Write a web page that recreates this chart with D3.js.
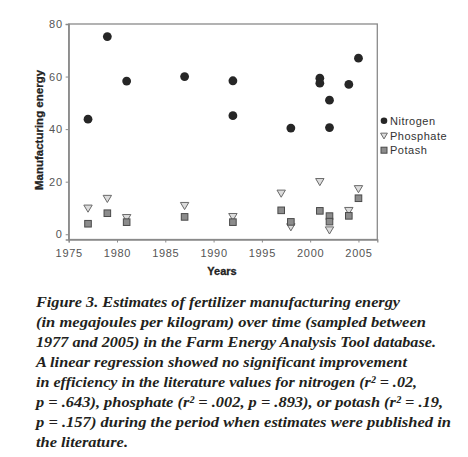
<!DOCTYPE html>
<html><head><meta charset="utf-8">
<script src="https://cdn.jsdelivr.net/npm/d3@7"></script>
<style>body{margin:0;background:#fff;} svg{display:block;}</style>
</head><body>
<svg id="c" width="468" height="457"></svg>
<script>
const nitrogenYears = [1977,1979,1981,1987,1992,1992,1998,2001,2001,2002,2002,2004,2005];
const nitrogenValues = [43.8,75.2,58.3,60.0,58.4,45.1,40.4,59.4,57.5,51.0,40.6,57.0,67.0];
const phosphateYears = [1977,1979,1981,1987,1992,1997,1998,2001,2002,2004,2005];
const phosphateValues = [9.9,13.6,6.3,10.9,6.7,15.6,2.8,20.0,1.6,9.0,17.3];
const potashYears = [1977,1979,1981,1987,1992,1997,1998,2001,2002,2002,2004,2005];
const potashValues = [4.0,8.0,4.6,6.6,4.6,9.1,4.7,8.9,6.9,4.8,7.0,13.7];
const xTicks = [1975,1980,1985,1990,1995,2000,2005];
const yTicks = [0,20,40,60,80];
const legendLabels = ["Nitrogen","Phosphate","Potash"];
const captionLines = [
 "Figure 3. Estimates of fertilizer manufacturing energy",
 "(in megajoules per kilogram) over time (sampled between",
 "1977 and 2005) in the Farm Energy Analysis Tool database.",
 "A linear regression showed no significant improvement",
 "in efficiency in the literature values for nitrogen (r\u00B2 = .02,",
 "p = .643), phosphate (r\u00B2 = .002, p = .893), or potash (r\u00B2 = .19,",
 "p = .157) during the period when estimates were published in",
 "the literature."
];
const captionWidths = [364,390,400,371,381,407,415,92];

const svg = d3.select("#c");
const L = 68.7, R = 377.3, T = 24, B = 239.5;
const x = d3.scaleLinear().domain([1975, 2006.95]).range([L, R]);
const y = d3.scaleLinear().domain([-2, 80]).range([B, T]);
const axisColor = "#8a8a8a";
const tickText = "#555";

// frame
svg.append("rect").attr("x", L).attr("y", T).attr("width", R-L).attr("height", B-T)
  .attr("fill","none").attr("stroke", axisColor).attr("stroke-width", 1.3);

const xa = svg.append("g").attr("transform", `translate(0,${B})`)
  .call(d3.axisBottom(x).tickValues(xTicks).tickSize(3).tickPadding(7).tickFormat(d3.format("d")));
const ya = svg.append("g").attr("transform", `translate(${L},0)`)
  .call(d3.axisLeft(y).tickValues(yTicks).tickSize(3).tickPadding(3));
[xa, ya].forEach(g => {
  g.select(".domain").attr("stroke", axisColor).attr("stroke-width", 1.3);
  g.selectAll(".tick line").attr("stroke", axisColor);
  g.selectAll("text").attr("fill", tickText).attr("font-family","Liberation Sans, Arial, sans-serif")
    .attr("font-size", 11).attr("letter-spacing", 0.7);
});

// axis titles
svg.append("text").attr("x", 222).attr("y", 275).attr("text-anchor","middle")
  .attr("font-family","Liberation Sans, Arial, sans-serif").attr("font-weight","bold")
  .attr("font-size", 11).attr("stroke","#222").attr("stroke-width",0.3)
  .attr("fill","#222").text("Years");
svg.append("text").attr("transform", `translate(43,130) rotate(-90)`).attr("text-anchor","middle")
  .attr("font-family","Liberation Sans, Arial, sans-serif").attr("font-weight","bold")
  .attr("font-size", 11.5).attr("stroke","#222").attr("stroke-width",0.3)
  .attr("fill","#222").text("Manufacturing energy");

const tri = (cx, cy, s) => `M${cx-s},${cy-s*0.75}L${cx+s},${cy-s*0.75}L${cx},${cy+s*0.95}Z`;

// phosphate triangles
svg.append("g").selectAll("path").data(phosphateYears.map((d,i)=>[d,phosphateValues[i]])).join("path")
  .attr("d", d => tri(x(d[0]), y(d[1]), 4.2))
  .attr("fill","#dcdcdc").attr("stroke","#6a6a6a").attr("stroke-width",1);
// potash squares
svg.append("g").selectAll("rect").data(potashYears.map((d,i)=>[d,potashValues[i]])).join("rect")
  .attr("x", d => x(d[0]) - 3.3).attr("y", d => y(d[1]) - 3.3).attr("width", 6.6).attr("height", 6.6)
  .attr("fill","#8c8c8c").attr("stroke","#4a4a4a").attr("stroke-width",1);
// nitrogen circles
svg.append("g").selectAll("circle").data(nitrogenYears.map((d,i)=>[d,nitrogenValues[i]])).join("circle")
  .attr("cx", d => x(d[0])).attr("cy", d => y(d[1])).attr("r", 4.4)
  .attr("fill","#262626");

// legend
const lg = svg.append("g");
const ly = [120.7, 135.7, 150.2];
lg.append("circle").attr("cx", 384).attr("cy", ly[0]).attr("r", 3.3).attr("fill","#262626");
lg.append("path").attr("d", tri(384, ly[1], 3.4)).attr("fill","#dcdcdc").attr("stroke","#6a6a6a");
lg.append("rect").attr("x", 381).attr("y", ly[2]-3).attr("width",6).attr("height",6)
  .attr("fill","#8c8c8c").attr("stroke","#4a4a4a");
lg.selectAll("text").data(legendLabels).join("text")
  .attr("x", 390).attr("y", (d,i)=> ly[i] + 4)
  .attr("font-family","Liberation Sans, Arial, sans-serif").attr("font-size", 11)
  .attr("letter-spacing", 0.5).attr("fill","#333").text(d=>d);

// caption
svg.append("g").selectAll("text").data(captionLines).join("text")
  .attr("x", 36).attr("y", (d,i)=> 306.7 + i*20)
  .attr("font-family","Liberation Serif, Times New Roman, serif").attr("font-style","italic")
  .attr("font-weight","bold").attr("font-size", 15.5).attr("fill","#231f20")
  .attr("textLength", (d,i)=> captionWidths[i]).attr("lengthAdjust","spacingAndGlyphs")
  .text(d=>d);
</script>
</body></html>
